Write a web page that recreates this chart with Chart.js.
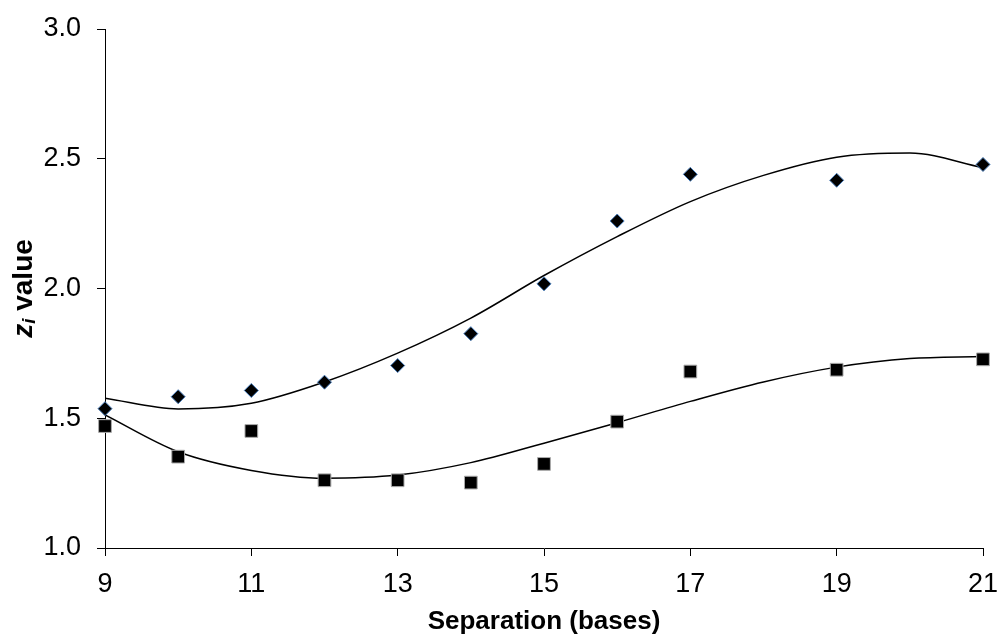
<!DOCTYPE html>
<html>
<head>
<meta charset="utf-8">
<script src="https://cdn.jsdelivr.net/npm/chart.js@4"></script>
<style>
  html, body { margin: 0; padding: 0; background: #fff; }
  #wrap { width: 999px; height: 637px; }
</style>
</head>
<body>
<div id="wrap"><canvas id="chart" width="999" height="637"></canvas></div>
<script>
// measured points
const separation = [9, 10, 11, 12, 13, 14, 15, 16, 17, 19, 21];
const diamondValues = [1.537, 1.583, 1.607, 1.639, 1.703, 1.826, 2.018, 2.26, 2.44, 2.417, 2.478];
const squareValues = [1.470, 1.352, 1.451, 1.261, 1.261, 1.252, 1.324, 1.487, 1.68, 1.687, 1.727];

// trend curves at each base
const trendX = [9, 10, 11, 12, 13, 14, 15, 16, 17, 18, 19, 20, 21];
const upperTrend = [1.577, 1.536, 1.558, 1.640, 1.751, 1.886, 2.050, 2.200, 2.335, 2.436, 2.506, 2.522, 2.466];
const lowerTrend = [1.513, 1.371, 1.299, 1.269, 1.281, 1.329, 1.404, 1.483, 1.565, 1.640, 1.697, 1.730, 1.738];

const xTicks = [9, 11, 13, 15, 17, 19, 21];
const yTicks = [1.0, 1.5, 2.0, 2.5, 3.0];

const FONT = '"Liberation Sans", Arial, sans-serif';

function pairs(xs, ys) {
    return xs.map((x, i) => ({ x: x, y: ys[i] }));
}

// y axis title: italic z with subscript i, then " value"
const yTitlePlugin = {
    id: 'yTitle',
    afterDraw(chart) {
        const ctx = chart.ctx;
        const area = chart.chartArea;
        const big = 'bold italic 28px ' + FONT;
        const sub = 'bold italic 19px ' + FONT;
        const rest = 'bold 28px ' + FONT;
        ctx.save();
        ctx.font = big;
        const wz = ctx.measureText('z').width;
        ctx.font = sub;
        const wi = ctx.measureText('i').width;
        ctx.font = rest;
        const wv = ctx.measureText(' value').width;
        const total = wz + wi + wv;
        ctx.translate(24, (area.top + area.bottom) / 2);
        ctx.rotate(-Math.PI / 2);
        ctx.fillStyle = '#000';
        ctx.textBaseline = 'middle';
        ctx.textAlign = 'left';
        let x = -total / 2;
        ctx.font = big;
        ctx.fillText('z', x, 0);
        x += wz;
        ctx.font = sub;
        ctx.fillText('i', x, 6);
        x += wi;
        ctx.font = rest;
        ctx.fillText(' value', x, 0);
        ctx.restore();
    }
};

function setupChart() {
    const ctx = document.getElementById('chart').getContext('2d');
    new Chart(ctx, {
        type: 'scatter',
        data: {
            datasets: [
                {
                    data: pairs(separation, diamondValues),
                    pointStyle: 'rectRot',
                    pointRadius: 7,
                    backgroundColor: '#000',
                    borderColor: '#4a7ebb',
                    borderWidth: 1,
                    showLine: false,
                    clip: false
                },
                {
                    data: pairs(separation, squareValues),
                    pointStyle: 'rect',
                    pointRadius: 9,
                    backgroundColor: '#000',
                    borderColor: '#aaa',
                    borderWidth: 1,
                    showLine: false,
                    clip: false
                },
                {
                    data: pairs(trendX, upperTrend),
                    showLine: true,
                    pointRadius: 0,
                    borderColor: '#000',
                    borderWidth: 1.5,
                    cubicInterpolationMode: 'monotone',
                    fill: false
                },
                {
                    data: pairs(trendX, lowerTrend),
                    showLine: true,
                    pointRadius: 0,
                    borderColor: '#000',
                    borderWidth: 1.5,
                    cubicInterpolationMode: 'monotone',
                    fill: false
                }
            ]
        },
        options: {
            responsive: false,
            animation: false,
            layout: { padding: { top: 29, right: 16, left: 0, bottom: 0 } },
            plugins: {
                legend: { display: false },
                tooltip: { enabled: false }
            },
            scales: {
                x: {
                    type: 'linear',
                    min: 9,
                    max: 21,
                    afterBuildTicks(scale) {
                        scale.ticks = xTicks.map(v => ({ value: v }));
                    },
                    afterFit(scale) {
                        scale.height = 89;
                        scale.paddingRight = 0;
                        scale.paddingLeft = 0;
                    },
                    grid: {
                        drawOnChartArea: false,
                        drawTicks: true,
                        tickLength: 8,
                        color: '#000'
                    },
                    border: { display: true, color: '#000', width: 1 },
                    ticks: {
                        color: '#000',
                        font: { family: FONT, size: 27 },
                        padding: 12,
                        maxRotation: 0
                    },
                    title: {
                        display: true,
                        text: 'Separation (bases)',
                        color: '#000',
                        font: { family: FONT, size: 26, weight: 'bold' },
                        padding: { top: 2, bottom: 0 }
                    }
                },
                y: {
                    type: 'linear',
                    min: 1.0,
                    max: 3.0,
                    afterBuildTicks(scale) {
                        scale.ticks = yTicks.map(v => ({ value: v }));
                    },
                    afterFit(scale) {
                        scale.width = 105;
                        scale.paddingTop = 0;
                        scale.paddingBottom = 0;
                    },
                    grid: {
                        drawOnChartArea: false,
                        drawTicks: true,
                        tickLength: 8,
                        color: '#000'
                    },
                    border: { display: true, color: '#000', width: 1 },
                    ticks: {
                        color: '#000',
                        font: { family: FONT, size: 27 },
                        padding: 16,
                        callback: v => v.toFixed(1)
                    }
                }
            }
        },
        plugins: [yTitlePlugin]
    });
}

window.onload = () => {
    setupChart();
};
</script>
</body>
</html>
